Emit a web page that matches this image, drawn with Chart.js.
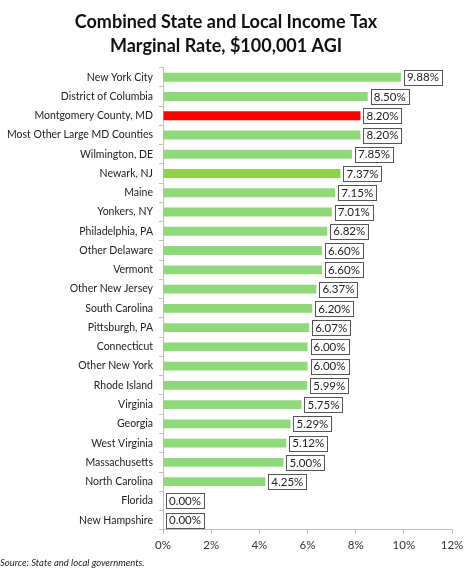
<!DOCTYPE html>
<html>
<head>
<meta charset="utf-8">
<script src="https://cdn.jsdelivr.net/npm/chart.js@4"></script>
<style>
  html, body { margin: 0; padding: 0; background: #fff; }
  #wrap { width: 474px; height: 578px; }
</style>
</head>
<body>
<div id="wrap"><canvas id="chart"></canvas></div>
<script>
// datos del grafico
const places = [
  "New York City", "District of Columbia", "Montgomery County, MD", "Most Other Large MD Counties",
  "Wilmington, DE", "Newark, NJ", "Maine", "Yonkers, NY", "Philadelphia, PA", "Other Delaware",
  "Vermont", "Other New Jersey", "South Carolina", "Pittsburgh, PA", "Connecticut", "Other New York",
  "Rhode Island", "Virginia", "Georgia", "West Virginia", "Massachusetts", "North Carolina",
  "Florida", "New Hampshire"
];
const rates = [9.88, 8.50, 8.20, 8.20, 7.85, 7.37, 7.15, 7.01, 6.82, 6.60, 6.60, 6.37, 6.20, 6.07,
  6.00, 6.00, 5.99, 5.75, 5.29, 5.12, 5.00, 4.25, 0.00, 0.00];
const xTicks = [0, 2, 4, 6, 8, 10, 12];
const titleLines = ["Combined State and Local Income Tax", "Marginal Rate, $100,001 AGI"];
const sourceNote = "Source: State and local governments.";

const FONT = "Lato, 'Open Sans', sans-serif";

// colores de barras
const barColors = places.map(p => {
  if (p === "Montgomery County, MD") return "#ff0000";
  if (p === "Newark, NJ") return "#8fd24e";
  return "#8fd97a";
});

// etiquetas con recuadro al final de cada barra
const boxLabels = {
  id: "boxLabels",
  afterDatasetsDraw(chart) {
    const ctx = chart.ctx;
    const meta = chart.getDatasetMeta(0);
    ctx.save();
    ctx.font = "11.5px " + FONT;
    ctx.textBaseline = "middle";
    meta.data.forEach((bar, i) => {
      const txt = rates[i].toFixed(2) + "%";
      const w = ctx.measureText(txt).width + 6;
      const h = 15;
      const x = bar.x + 3;
      const y = bar.y - h / 2;
      ctx.fillStyle = "#fff";
      ctx.fillRect(x, y, w, h);
      ctx.strokeStyle = "#555";
      ctx.lineWidth = 1;
      ctx.strokeRect(Math.round(x) + 0.5, Math.round(y) + 0.5, Math.round(w), h);
      ctx.fillStyle = "#222";
      ctx.fillText(txt, x + 3, bar.y + 0.5);
    });
    ctx.restore();
  }
};

new Chart(document.getElementById("chart"), {
  type: "bar",
  data: {
    labels: places,
    datasets: [{
      data: rates,
      backgroundColor: barColors,
      barPercentage: 0.46,
      categoryPercentage: 1
    }]
  },
  options: {
    indexAxis: "y",
    responsive: true,
    maintainAspectRatio: false,
    animation: false,
    layout: { padding: { left: 0, right: 22, top: 0, bottom: 9 } },
    plugins: {
      legend: { display: false },
      tooltip: { enabled: false },
      title: {
        display: true,
        text: titleLines,
        color: "#111",
        font: { family: FONT, size: 18, weight: "bold", lineHeight: 1.35 },
        padding: { top: 10, bottom: 9 }
      },
      subtitle: {
        display: true,
        position: "bottom",
        align: "start",
        text: sourceNote,
        color: "#222",
        font: { family: FONT, size: 9.5, style: "italic" },
        padding: { top: 0, bottom: 0, left: 10 }
      }
    },
    scales: {
      x: {
        min: 0,
        max: 12,
        afterBuildTicks(scale) { scale.ticks = xTicks.map(v => ({ value: v })); },
        ticks: {
          color: "#333",
          font: { family: FONT, size: 11.5 },
          padding: 5,
          callback: v => v + "%"
        },
        grid: { display: true, drawOnChartArea: false, tickLength: 4, color: "#bfbfbf" },
        border: { color: "#bfbfbf" }
      },
      y: {
        afterFit(scale) { scale.width = 163; },
        ticks: {
          color: "#222",
          font: { family: FONT, size: 10.5 },
          padding: 6,
          autoSkip: false
        },
        grid: { display: true, drawOnChartArea: false, offset: true, tickLength: 4, color: "#bfbfbf" },
        border: { color: "#bfbfbf" }
      }
    }
  },
  plugins: [boxLabels]
});
</script>
</body>
</html>
